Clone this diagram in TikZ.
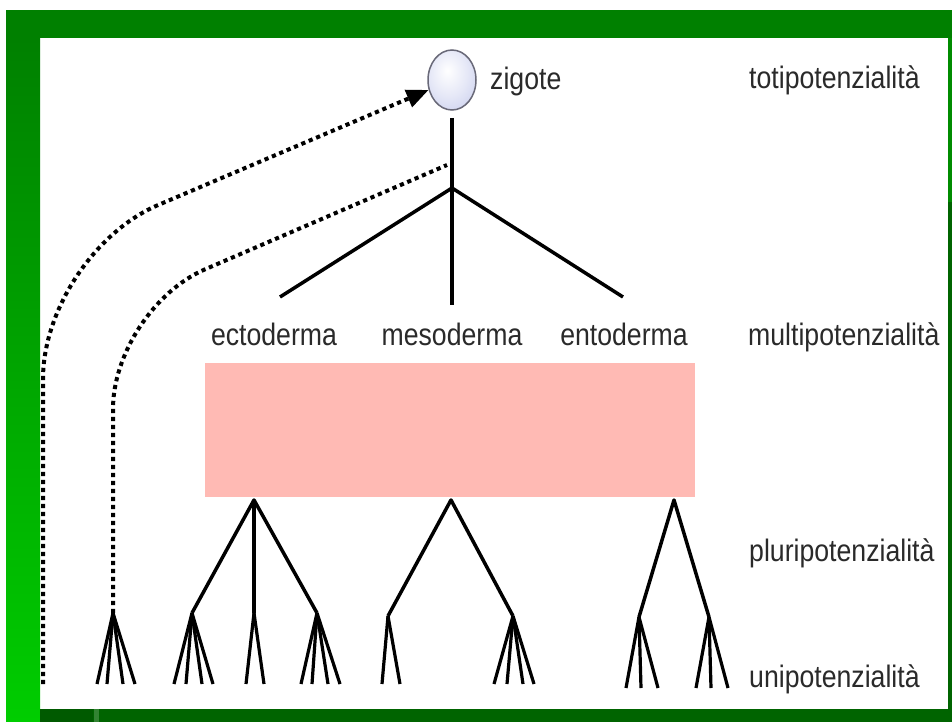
\documentclass[tikz,border=0pt]{standalone}
\usepackage{fontspec}
\setmainfont{Liberation Sans}[FakeStretch=0.86]
\usepackage{tikz}
\usetikzlibrary{arrows.meta,shapes.geometric}
\definecolor{gtop}{RGB}{0,128,0}
\definecolor{glow}{RGB}{0,205,0}
\definecolor{gdark}{RGB}{0,100,0}
\definecolor{gright}{RGB}{0,140,0}
\definecolor{lav}{RGB}{190,196,234}
\definecolor{band}{RGB}{255,186,180}
\definecolor{txt}{RGB}{42,42,42}
\definecolor{rim}{RGB}{105,105,120}
\pgfdeclareradialshading{zygshade}{\pgfpoint{-5bp}{8bp}}{color(0bp)=(white); color(20bp)=(lav!40); color(45bp)=(lav); color(80bp)=(lav)}
\tikzset{
  zyg/.style={ellipse,draw=rim,line width=1.5pt,shade,shading=zygshade,
              minimum width=48pt,minimum height=60pt,inner sep=0pt},   % zygote cell
  lbl/.style={text=txt,inner sep=0pt,font=\fontsize{31}{36}\selectfont},% labels
  br/.style={line width=3.5pt,line join=round},                        % lineage branch
  leaf/.style={line width=3.2pt},                                      % terminal cells
  dots/.style={line width=4pt,dash pattern=on 4.2pt off 3.8pt},        % back to zygote
  tip/.style={-{Triangle[length=22pt,width=18pt]}},
}
\begin{document}
\begin{tikzpicture}[x=1pt,y=-1pt]
  \useasboundingbox (0,0) rectangle (952,722);
  % frame
  \fill[white] (0,0) rectangle (952,722);
  \fill[gtop] (6,10) rectangle (952,38);
  \shade[top color=gtop,bottom color=glow] (6,38) rectangle (40,722);
  \fill[gdark] (40,709) rectangle (952,722);
  \fill[gdark!90!black] (40,709) rectangle (93,722);
  \fill[gdark!80!white] (94,709) rectangle (99,722);
  \fill[gright] (948,38) rectangle (952,202);
  \fill[gdark] (948,202) rectangle (952,709);
  % zygote and first split
  \node[zyg] (zyg) at (452,80) {};
  \node[lbl,anchor=base west] (tZyg) at (490,90) {zigote};
  \coordinate (stem) at (452,118);
  \coordinate (jn) at (452,188);
  \coordinate (ecto) at (280,297);
  \coordinate (meso) at (452,305);
  \coordinate (ento) at (623,297);
  \draw[br] (stem) -- (meso);
  \draw[br] (ecto) -- (jn) -- (ento);
  \node[lbl,anchor=base] (tEcto) at (274,345) {ectoderma};
  \node[lbl,anchor=base] (tMeso) at (452,345) {mesoderma};
  \node[lbl,anchor=base] (tEnto) at (624,345) {entoderma};
  \fill[band] (205,363) rectangle (695,497);
  % tissue trees
  \coordinate (aE) at (254,500); \coordinate (aM) at (451,500); \coordinate (aN) at (674,500);
  \coordinate (s0) at (113,613); \coordinate (s1) at (192,613);
  \coordinate (s2) at (254,613); \coordinate (s3) at (317,613);
  \coordinate (s4) at (388,616); \coordinate (s5) at (513,616);
  \coordinate (s6) at (639,617); \coordinate (s7) at (709,617);
  \draw[br] (s1) -- (aE) -- (s3);
  \draw[br] (aE) -- (s2);
  \draw[br] (s4) -- (aM) -- (s5);
  \draw[br] (s6) -- (aN) -- (s7);
  \foreach \n/\xs/\yb in {s0/{97,107,123,135}/684, s1/{174,186,202,213}/684,
                          s2/{246,264}/684, s3/{301,312,328,340}/684,
                          s4/{382,400}/684, s5/{494,507,523,534}/684,
                          s6/{626,641,658}/688, s7/{696,711,728}/688}
    \foreach \x [count=\i] in \xs {
      \coordinate (\n-\i) at (\x,\yb);
      \draw[leaf] (\n) -- (\n-\i);
    }
  % dedifferentiation paths
  \coordinate (dA) at (43,684); \coordinate (kA) at (43,254);
  \coordinate (kB) at (113,309); \coordinate (dB) at (447,165);
  \draw[dots,tip,rounded corners=125pt] (dA) -- (kA) -- (zyg);
  \draw[dots,rounded corners=100pt] (s0) -- (kB) -- (dB);
  % potency levels
  \node[lbl,anchor=base west] (tTot) at (749,89) {totipotenzialità};
  \node[lbl,anchor=base west] (tMul) at (748,345) {multipotenzialità};
  \node[lbl,anchor=base west] (tPlu) at (749,561) {pluripotenzialità};
  \node[lbl,anchor=base west] (tUni) at (749,687) {unipotenzialità};
\end{tikzpicture}
\end{document}
